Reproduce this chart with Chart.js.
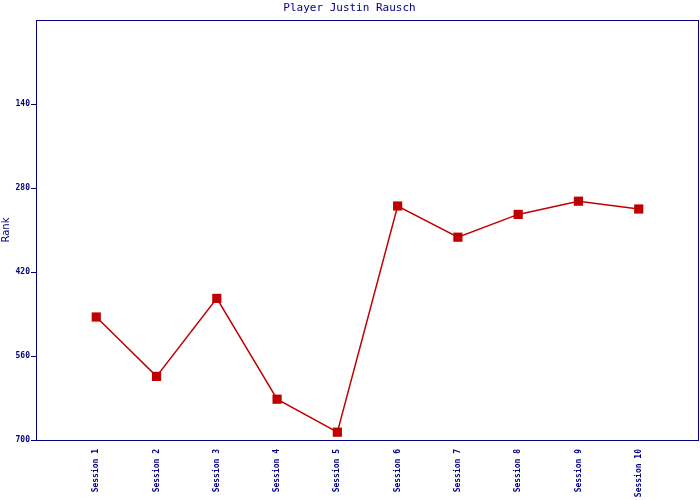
<!DOCTYPE html>
<html>
<head>
<meta charset="utf-8">
<script src="https://cdn.jsdelivr.net/npm/chart.js@4"></script>
<style>
  html, body { margin: 0; padding: 0; background: #fff; }
  #wrap { width: 700px; height: 500px; }
</style>
</head>
<body>
<div id="wrap"><canvas id="myChart" width="700" height="500"></canvas></div>
<script>
const sessions = ['Session 1', 'Session 2', 'Session 3', 'Session 4', 'Session 5',
    'Session 6', 'Session 7', 'Session 8', 'Session 9', 'Session 10'];
const ranks = [495, 594, 464, 632, 687, 310, 362, 324, 302, 315];
const rankTicks = [140, 280, 420, 560, 700];

const navy = '#000080';
const red = '#c00000';
const mono = '"DejaVu Sans Mono", "Liberation Mono", monospace';

// box round the plot area
const frame = {
    id: 'frame',
    afterDraw(chart) {
        const a = chart.chartArea;
        const ctx = chart.ctx;
        ctx.save();
        ctx.strokeStyle = navy;
        ctx.lineWidth = 1;
        ctx.strokeRect(Math.round(a.left) + 0.5, Math.round(a.top) + 0.5,
            Math.round(a.right - a.left) - 1, Math.round(a.bottom - a.top));
        ctx.restore();
    }
};

function drawChart() {
    const ctx = document.getElementById('myChart');
    let points = [];
    for (let i = 0; i < ranks.length; i++) {
        points.push({x: i + 1, y: ranks[i]});
    }
    new Chart(ctx, {
        type: 'line',
        data: {
            datasets: [{
                label: 'Rank',
                data: points,
                borderColor: red,
                backgroundColor: red,
                borderWidth: 1.5,
                pointStyle: 'rect',
                pointRadius: 6.5,
                pointBorderWidth: 0,
                tension: 0
            }]
        },
        options: {
            responsive: false,
            animation: false,
            layout: {autoPadding: false, padding: {left: 0, right: 1, top: 0, bottom: 0}},
            plugins: {
                legend: {display: false},
                tooltip: {enabled: false},
                title: {
                    display: true,
                    text: 'Player Justin Rausch',
                    color: navy,
                    font: {family: mono, size: 11, weight: 'normal', lineHeight: 1.2},
                    padding: {top: 1.5, bottom: 5.3}
                }
            },
            scales: {
                x: {
                    type: 'linear',
                    min: 0,
                    max: 11,
                    border: {display: false},
                    grid: {display: false},
                    afterBuildTicks: s => {
                        s.ticks = sessions.map((_, i) => ({value: i + 1}));
                    },
                    afterFit: s => {
                        s.height = 60;
                        s.paddingLeft = 0;
                        s.paddingRight = 0;
                    },
                    ticks: {
                        color: navy,
                        autoSkip: false,
                        minRotation: 90,
                        maxRotation: 90,
                        padding: 1,
                        font: {family: mono, size: 8, weight: 'bold'},
                        callback: v => sessions[v - 1] || ''
                    }
                },
                y: {
                    reverse: true,
                    min: 0,
                    max: 700,
                    border: {display: false},
                    grid: {
                        drawOnChartArea: false,
                        drawTicks: true,
                        tickLength: 5,
                        color: navy
                    },
                    afterBuildTicks: s => {
                        s.ticks = rankTicks.map(v => ({value: v}));
                    },
                    afterFit: s => { s.width = 36; },
                    title: {
                        display: true,
                        text: 'Rank',
                        color: navy,
                        font: {family: '"DejaVu Sans", sans-serif', size: 10},
                        padding: {top: 0, bottom: 0}
                    },
                    ticks: {
                        color: navy,
                        padding: 1,
                        font: {family: mono, size: 8, weight: 'bold'}
                    }
                }
            }
        },
        plugins: [frame]
    });
}

window.addEventListener('load', evt => drawChart());
</script>
</body>
</html>
